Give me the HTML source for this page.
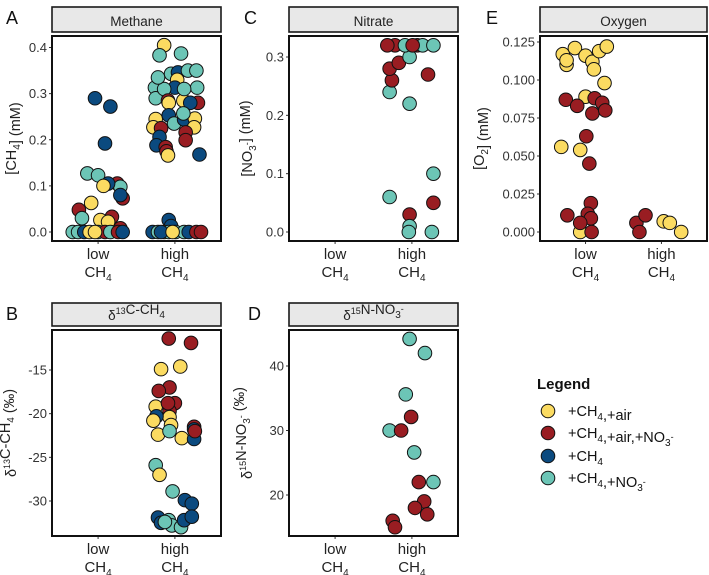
<!DOCTYPE html>
<html><head><meta charset="utf-8">
<style>
html,body{margin:0;padding:0;background:#fff;}
svg{display:block;font-family:"Liberation Sans",sans-serif;}
</style></head>
<body>
<svg id="chart" width="709" height="575" viewBox="0 0 709 575">
<g id="static"></g>
</svg>
<script>
// ---------- data ----------
const categories = ['low', 'high'];
const groupNames = ['+CH4,+air', '+CH4,+air,+NO3-', '+CH4', '+CH4,+NO3-'];
const groupColors = ['#FBDB61', '#991D22', '#0B4A7F', '#6CC5B6'];

// Methane (A): group index, category index, jitter (category units), value (mM)
const methaneGroup = [0,3,3,3,3,3,2,0,3,3,3,2,3,1,0,0,1,2,3,3, 0,0,1,2,3,2,0,0,1,1,2,2,1,1,0,2,3, 2,2,2,3,0,3,3,3,2,1,2,0,1,
 2,2,2,3,3,1,3,2,0,1,2,0,1,3,1,0,0,1,3,3,2,0,3,1,3,1,2,0];
const methaneCat = [1,1,1,1,1,1,1,1,1,1,1,1,1,1,1,1,1,1,1,1, 1,1,1,1,1,1,1,1,1,1,1,1,1,1,1,1,1, 1,1,1,1,1,1,1,1,1,1,1,1,1,
 0,0,0,0,0,0,0,0,0,0,0,0,0,0,0,0,0,0,0,0,0,0,0,0,0,0,0,0];
const methaneJitter = [-.14,.08,-.2,-.26,-.25,-.05,.04,.03,.17,.28,.29,0,-.14,-.09,-.08,.11,.3,.2,.12,-.22,
 -.25,-.28,-.18,-.08,-.01,.12,.26,.25,.14,.14,-.2,-.24,-.12,-.11,-.09,.32,.11,
 -.08,-.05,-.29,-.22,-.14,-.08,.01,.12,.18,.28,-.18,-.03,.34,
 -.04,.16,.09,-.14,0,.25,.29,.13,.07,.32,.29,-.09,-.25,-.21,.18,.03,.13,.29,-.33,-.26,-.18,-.11,0,.09,.16,.26,.32,-.04];
const methaneValues = [.405,.387,.383,.313,.29,.343,.346,.33,.35,.35,.313,.313,.31,.285,.28,.285,.28,.28,.31,.335,
 .245,.227,.225,.253,.235,.244,.246,.227,.216,.199,.206,.188,.184,.175,.166,.168,.257,
 .026,.013,0,0,0,0,0,0,0,0,0,0,0,
 .29,.272,.192,.127,.123,.105,.098,.105,.1,.073,.08,.063,.048,.03,.033,.026,.022,.008,0,0,0,0,0,0,0,0,0,0];

// Nitrate (C)
const nitrateGroup = [3,1,1,1,3,1,1,3,1,3,3,1,3,3,3,1,1,3,3,3,1];
const nitrateCat = [1,1,1,1,1,1,1,1,1,1,1,1,1,1,1,1,1,1,1,1,1];
const nitrateJitter = [-.29,-.26,-.29,-.17,-.03,-.22,-.32,-.09,.07,.14,.28,.21,-.03,-.29,.28,.28,-.03,-.03,-.04,.26,.01];
const nitrateValues = [.24,.26,.28,.29,.3,.32,.32,.32,.32,.32,.32,.27,.22,.06,.1,.05,.03,.01,0,0,.32];

// Oxygen (E)
const oxygenGroup = [0,0,0,0,0,0,0,0,0,0,0,0,0,0, 1,1,1,1,1,1,1,1,1,1,1,1,1,1, 1,1,1,0,0,0];
const oxygenCat = [0,0,0,0,0,0,0,0,0,0,0,0,0,0, 0,0,0,0,0,0,0,0,0,0,0,0,0,0, 1,1,1,1,1,1];
const oxygenJitter = [-.3,-.25,-.25,-.14,0,.09,.11,.18,.28,.25,0,-.32,-.07,-.07,
 -.26,-.11,.12,.09,.22,.26,.01,.05,-.24,.07,.03,.07,-.07,.08, -.33,-.21,-.29,.03,.11,.26];
const oxygenValues = [.117,.11,.113,.121,.116,.112,.107,.119,.122,.098,.089,.056,.054,0,
 .087,.083,.088,.078,.085,.08,.063,.045,.011,.019,.012,.009,.006,0, .006,.011,0,.007,.006,0];

// d13C-CH4 (B)
const d13cGroup = [1,1,0,0,1,1,0,1,1,1,0,2,0,0,1,2,0,3,0,2,1,3,0,3,2,2,2,2,3,3,3,2,2,3];
const d13cCat = [1,1,1,1,1,1,1,1,1,1,1,1,1,1,1,1,1,1,1,1,1,1,1,1,1,1,1,1,1,1,1,1,1,1];
const d13cJitter = [-.08,.21,-.18,.07,-.07,-.21,-.25,0,-.07,-.09,-.07,-.24,-.28,-.05,.25,.25,-.22,-.07,.09,.25,.26,
 -.25,-.2,-.03,.13,.22,-.22,-.18,-.08,-.04,.08,.12,.22,-.13];
const d13cValues = [-11.4,-11.9,-14.9,-14.6,-17,-17.4,-19.2,-18.8,-19.7,-18.8,-20.4,-20.3,-20.8,-21.3,-21.5,-21.8,-22.4,-22,-22.8,-22.9,-22,
 -25.9,-27,-28.9,-29.9,-30.3,-31.9,-32.5,-32.2,-32.8,-33,-32.2,-31.8,-32.4];

// d15N-NO3 (D)
const d15nGroup = [3,3,3,1,3,1,3,1,3,1,1,1,1,1];
const d15nCat = [1,1,1,1,1,1,1,1,1,1,1,1,1,1];
const d15nJitter = [-.03,.17,-.08,-.01,-.29,-.14,.03,.09,.28,.16,.04,.2,-.25,-.22];
const d15nValues = [44.2,42,35.6,32.1,30,30,26.6,22,22,19,18,17,16,15];

// tick arrays
const methaneTicks = [0, 0.1, 0.2, 0.3, 0.4];
const methaneTickLabels = ['0.0','0.1','0.2','0.3','0.4'];
const nitrateTicks = [0, 0.1, 0.2, 0.3];
const nitrateTickLabels = ['0.0','0.1','0.2','0.3'];
const oxygenTicks = [0, 0.025, 0.05, 0.075, 0.1, 0.125];
const oxygenTickLabels = ['0.000','0.025','0.050','0.075','0.100','0.125'];
const d13cTicks = [-15, -20, -25, -30];
const d13cTickLabels = ['-15','-20','-25','-30'];
const d15nTicks = [20, 30, 40];
const d15nTickLabels = ['20','30','40'];

// ---------- drawing ----------
const NS = 'http://www.w3.org/2000/svg';
const svg = document.getElementById('chart');
function mk(tag, attrs, parent) {
  const e = document.createElementNS(NS, tag);
  for (const k in attrs) e.setAttribute(k, attrs[k]);
  (parent || svg).appendChild(e);
  return e;
}

function panel(p) {
  const g = mk('g', {});
  
  
  const w = p.x1 - p.x0;
  const yScale = v => p.py0 + (v - p.v0) * (p.py1 - p.py0) / (p.v1 - p.v0);
  const xScale = (c, j) => p.x0 + w * (0.2727 + 0.4545 * c) + j * 0.4545 * w;
  const L = mk('text', {x: p.letterX, y: p.stripY0 + 17, 'font-size': 18, fill: '#111'}, g);
  L.textContent = p.letter;
  
  
  const s = mk('rect', {x: p.x0, y: p.stripY0, width: w, height: p.stripY1 - p.stripY0, fill: '#E8E8E8', stroke: '#1a1a1a', 'stroke-width': 1.6}, g);
  
  
  const st = mk('text', {x: p.x0 + w / 2, y: p.stripY1 - 6, 'text-anchor': 'middle', 'font-size': 13.5, fill: '#222'}, g);
  st.innerHTML = p.title;
  
  
  p.ticks.forEach((t, i) => {
    const y = yScale(t);
    mk('line', {x1: p.x0 - 3, x2: p.x0, y1: y, y2: y, stroke: '#333', 'stroke-width': 1}, g);
    const tl = mk('text', {x: p.x0 - 5, y: y + 4.5, 'text-anchor': 'end', 'font-size': 13, fill: '#333'}, g);
    tl.textContent = p.tickLabels[i];
    
    
  });
  categories.forEach((c, i) => {
    const x = xScale(i, 0);
    mk('line', {x1: x, x2: x, y1: p.boxY1, y2: p.boxY1 + 3, stroke: '#333', 'stroke-width': 1}, g);
    const t1 = mk('text', {x: x, y: p.boxY1 + 18, 'text-anchor': 'middle', 'font-size': 15, fill: '#222'}, g);
    t1.textContent = c;
    
    
    const t2 = mk('text', {x: x, y: p.boxY1 + 36, 'text-anchor': 'middle', 'font-size': 15, fill: '#222'}, g);
    t2.innerHTML = 'CH<tspan font-size="10" dy="4">4</tspan>';
    
    
  });
  const cy = (p.boxY0 + p.boxY1) / 2;
  const yt = mk('text', {x: 0, y: 0, 'text-anchor': 'middle', 'font-size': 14.5, fill: '#222', transform: `translate(${p.titleX},${cy}) rotate(-90)`}, g);
  yt.innerHTML = p.ytitle;
  
  
  const clipId = 'clip' + p.letter;
  const cp = mk('clipPath', {id: clipId}, g);
  mk('rect', {x: p.x0, y: p.boxY0, width: w, height: p.boxY1 - p.boxY0}, cp);
  const pg = mk('g', {'clip-path': `url(#${clipId})`}, g);
  p.vals.forEach((v, i) => {
    const c = mk('circle', {cx: xScale(p.cats[i], p.jit[i]), cy: yScale(v), r: 6.8, fill: groupColors[p.groups[i]], stroke: '#111', 'stroke-width': 1}, pg);
    
    
  });
  const fr = mk('rect', {x: p.x0, y: p.boxY0, width: w, height: p.boxY1 - p.boxY0, fill: 'none', stroke: '#111', 'stroke-width': 2}, g);
  
  
}

const sub = (t) => `<tspan font-size="10" dy="4">${t}</tspan><tspan dy="-4"></tspan>`;
const sup = (t) => `<tspan font-size="9" dy="-6">${t}</tspan><tspan dy="6"></tspan>`;

panel({name: 'methane', letter: 'A', letterX: 6, x0: 52, x1: 221, stripY0: 7, stripY1: 32, boxY0: 36, boxY1: 241,
  v0: 0, v1: 0.4, py0: 232, py1: 47.5, ticks: methaneTicks, tickLabels: methaneTickLabels, titleX: 16,
  title: 'Methane', ytitle: '[CH' + sub('4') + '] (mM)',
  groups: methaneGroup, cats: methaneCat, jit: methaneJitter, vals: methaneValues});
panel({name: 'nitrate', letter: 'C', letterX: 244, x0: 289, x1: 458, stripY0: 7, stripY1: 32, boxY0: 36, boxY1: 241,
  v0: 0, v1: 0.3, py0: 232, py1: 57, ticks: nitrateTicks, tickLabels: nitrateTickLabels, titleX: 252,
  title: 'Nitrate', ytitle: '[NO' + sub('3') + sup('-') + '] (mM)',
  groups: nitrateGroup, cats: nitrateCat, jit: nitrateJitter, vals: nitrateValues});
panel({name: 'oxygen', letter: 'E', letterX: 486, x0: 540, x1: 707, stripY0: 7, stripY1: 32, boxY0: 36, boxY1: 241,
  v0: 0, v1: 0.125, py0: 232, py1: 42, ticks: oxygenTicks, tickLabels: oxygenTickLabels, titleX: 484,
  title: 'Oxygen', ytitle: '[O' + sub('2') + '] (mM)',
  groups: oxygenGroup, cats: oxygenCat, jit: oxygenJitter, vals: oxygenValues});
panel({name: 'd13c', letter: 'B', letterX: 6, x0: 52, x1: 221, stripY0: 303, stripY1: 326, boxY0: 330, boxY1: 536,
  v0: -15, v1: -30, py0: 370, py1: 501, ticks: d13cTicks, tickLabels: d13cTickLabels, titleX: 16,
  title: 'δ' + sup('13') + 'C-CH' + sub('4'), ytitle: 'δ' + sup('13') + 'C-CH' + sub('4') + ' (‰)',
  groups: d13cGroup, cats: d13cCat, jit: d13cJitter, vals: d13cValues});
panel({name: 'd15n', letter: 'D', letterX: 248, x0: 289, x1: 458, stripY0: 303, stripY1: 326, boxY0: 330, boxY1: 536,
  v0: 40, v1: 20, py0: 366, py1: 495, ticks: d15nTicks, tickLabels: d15nTickLabels, titleX: 252,
  title: 'δ' + sup('15') + 'N-NO' + sub('3') + sup('-'), ytitle: 'δ' + sup('15') + 'N-NO' + sub('3') + sup('-') + ' (‰)',
  groups: d15nGroup, cats: d15nCat, jit: d15nJitter, vals: d15nValues});

// legend
const lg = mk('g', {});


const lt = mk('text', {x: 537, y: 389, 'font-size': 15, 'font-weight': 'bold', fill: '#111'}, lg);
lt.textContent = 'Legend';


const legendLabels = ['+CH' + sub('4') + ',+air', '+CH' + sub('4') + ',+air,+NO' + sub('3') + sup('-'), '+CH' + sub('4'), '+CH' + sub('4') + ',+NO' + sub('3') + sup('-')];
const legendY = [411, 433, 456, 478];
groupColors.forEach((col, i) => {
  const c = mk('circle', {cx: 548, cy: legendY[i], r: 6.8, fill: col, stroke: '#111', 'stroke-width': 1}, lg);
  
  
  const t = mk('text', {x: 568, y: legendY[i] + 5, 'font-size': 14.5, fill: '#111'}, lg);
  t.innerHTML = legendLabels[i];
  
  
});
</script>
</body></html>
